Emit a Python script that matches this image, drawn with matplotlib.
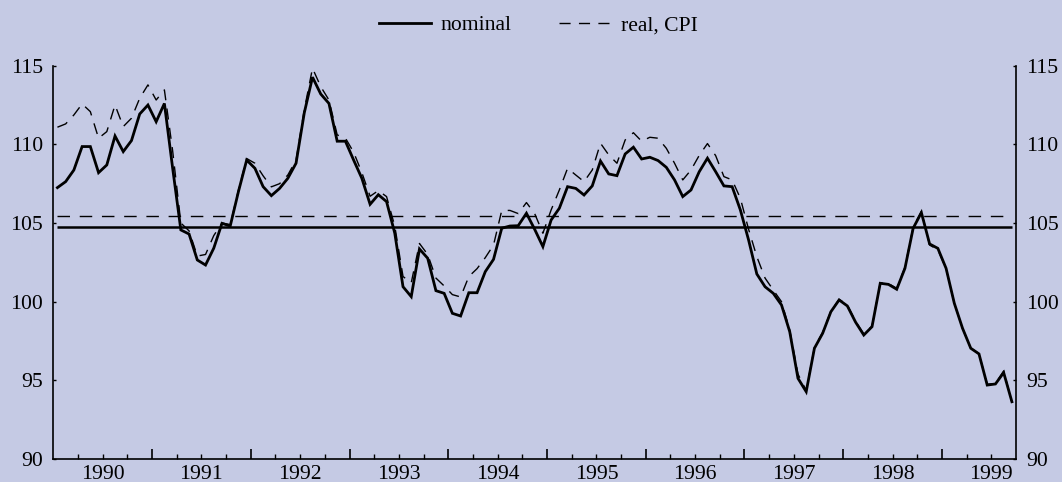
import numpy as np
import pandas as pd
import matplotlib
matplotlib.use("Agg")
import matplotlib.pyplot as plt

# monthly index, Jan 1990 - Sep 1999
months = pd.period_range("1990-01", "1999-09", freq="M")

nominal = [
    107.25, 107.63, 108.37, 109.86, 109.86, 108.2, 108.69, 110.53, 109.54, 110.24, 111.93, 112.5,
    111.44, 112.6, 108.5, 104.56, 104.3, 102.65, 102.33, 103.4, 104.98, 104.81, 107.0, 109.0,
    108.48, 107.31, 106.74, 107.2, 107.84, 108.8, 112.0, 114.27, 113.2, 112.6, 110.2, 110.2,
    109.0, 107.84, 106.19, 106.8, 106.36, 104.35, 100.95, 100.32, 103.35, 102.76, 100.7, 100.53,
    99.26, 99.09, 100.57, 100.57, 101.91, 102.69, 104.67, 104.81, 104.83, 105.62, 104.6, 103.5,
    105.19, 105.94, 107.31, 107.2, 106.78, 107.36, 108.94, 108.12, 108.01, 109.39, 109.82, 109.07,
    109.18, 108.97, 108.54, 107.74, 106.68, 107.1, 108.26, 109.12, 108.26, 107.36, 107.31, 105.83,
    103.92, 101.76, 100.95, 100.53, 99.79, 98.09, 95.13, 94.28, 97.04, 97.99, 99.36, 100.11,
    99.73, 98.7, 97.88, 98.41, 101.17, 101.1, 100.79, 102.12, 104.67, 105.66, 103.67, 103.39,
    102.12, 99.9, 98.31, 97.04, 96.68, 94.7, 94.77, 95.49, 93.64,
]

real_cpi = [
    111.09, 111.3, 111.87, 112.57, 112.08, 110.39, 110.81, 112.5, 111.13, 111.66, 112.93, 113.78,
    112.82, 113.46, 109.6, 105.0, 104.5, 102.9, 103.0, 104.2, 105.0, 104.9, 107.1, 109.1,
    108.8, 108.0, 107.3, 107.5, 108.05, 109.0, 112.2, 114.84, 113.67, 112.82, 110.6, 110.4,
    109.5, 108.2, 106.7, 107.06, 106.68, 104.8, 101.6, 101.2, 103.7, 103.0, 101.5, 101.0,
    100.45, 100.3, 101.6, 102.1, 102.8, 103.6, 105.8, 105.8, 105.6, 106.3, 105.6, 104.35,
    105.83, 107.1, 108.48, 108.05, 107.63, 108.37, 110.07, 109.33, 108.8, 110.28, 110.74, 110.2,
    110.45, 110.39, 109.75, 108.8, 107.74, 108.37, 109.3, 110.05, 109.28, 107.95, 107.74, 106.57,
    104.6, 102.86, 101.5, 100.74, 100.0, 98.2, 95.4, 94.35, 97.1, 98.05, 99.4, 100.15,
    99.8, 98.75, 97.95, 98.45, 101.2, 101.15, 100.85, 102.2, 104.75, 105.75, 103.6, 103.3,
    102.1, 99.9, 98.3, 97.05, 96.7, 94.75, 94.8, 95.6, 93.6,
]

# period averages (horizontal reference lines)
avg_nominal = 104.73
avg_real = 105.47

years = list(range(1990, 2000))
yticks = [90, 95, 100, 105, 110, 115]

BG = "#c5cae4"
FS = 15.6
plt.rcParams["font.family"] = ["Liberation Serif", "DejaVu Serif"]
plt.rcParams["font.size"] = FS

x = np.array([p.year + (p.month - 0.5) / 12 for p in months])

fig = plt.figure(figsize=(10.62, 4.82), dpi=100, facecolor=BG)
ax = fig.add_axes([0.0502, 0.0477, 0.9065, 0.816])
ax.set_facecolor(BG)

l1, = ax.plot(x, nominal, color="black", lw=2.0, solid_joinstyle="miter", label="nominal")
l2, = ax.plot(x, real_cpi, color="black", lw=1.0, dashes=(8, 6), label="real, CPI")
ax.hlines(avg_nominal, x[0], x[-1], color="black", lw=1.8)
ax.hlines(avg_real, x[0], x[-1], color="black", lw=1.0, linestyles=(0, (9, 7)))

ax.set_xlim(1990, 1999.75)
ax.set_ylim(90, 115)

# year boundaries: tall ticks, quarters: short ticks, labels at mid-year
ax.set_xticks(years[1:])
ax.set_xticklabels([""] * len(years[1:]))
quarters = [y + q for y in years for q in (0.25, 0.5, 0.75) if y + q < 1999.75]
qlabels = [str(int(q)) if abs(q - int(q) - 0.5) < 1e-6 else "" for q in quarters]
ax.set_xticks(quarters, labels=qlabels, minor=True)
ax.tick_params(axis="x", which="major", direction="in", length=7, width=1.2)
ax.tick_params(axis="x", which="minor", direction="in", length=3.4, width=1.0, pad=4)

ax.set_yticks(yticks)
ax.tick_params(axis="y", direction="in", length=2.2, width=1.0, pad=7.5,
               left=True, right=True, labelleft=True, labelright=True)

for side in ("left", "right", "bottom"):
    ax.spines[side].set_linewidth(1.2)
ax.spines["top"].set_visible(False)

fig.legend(handles=[l1, l2], loc="center", bbox_to_anchor=(0.507, 0.948), ncol=2,
           frameon=False, handlelength=2.4, columnspacing=2.2, handletextpad=0.45,
           fontsize=FS)

fig.savefig("out.png", dpi=100, facecolor=BG)
